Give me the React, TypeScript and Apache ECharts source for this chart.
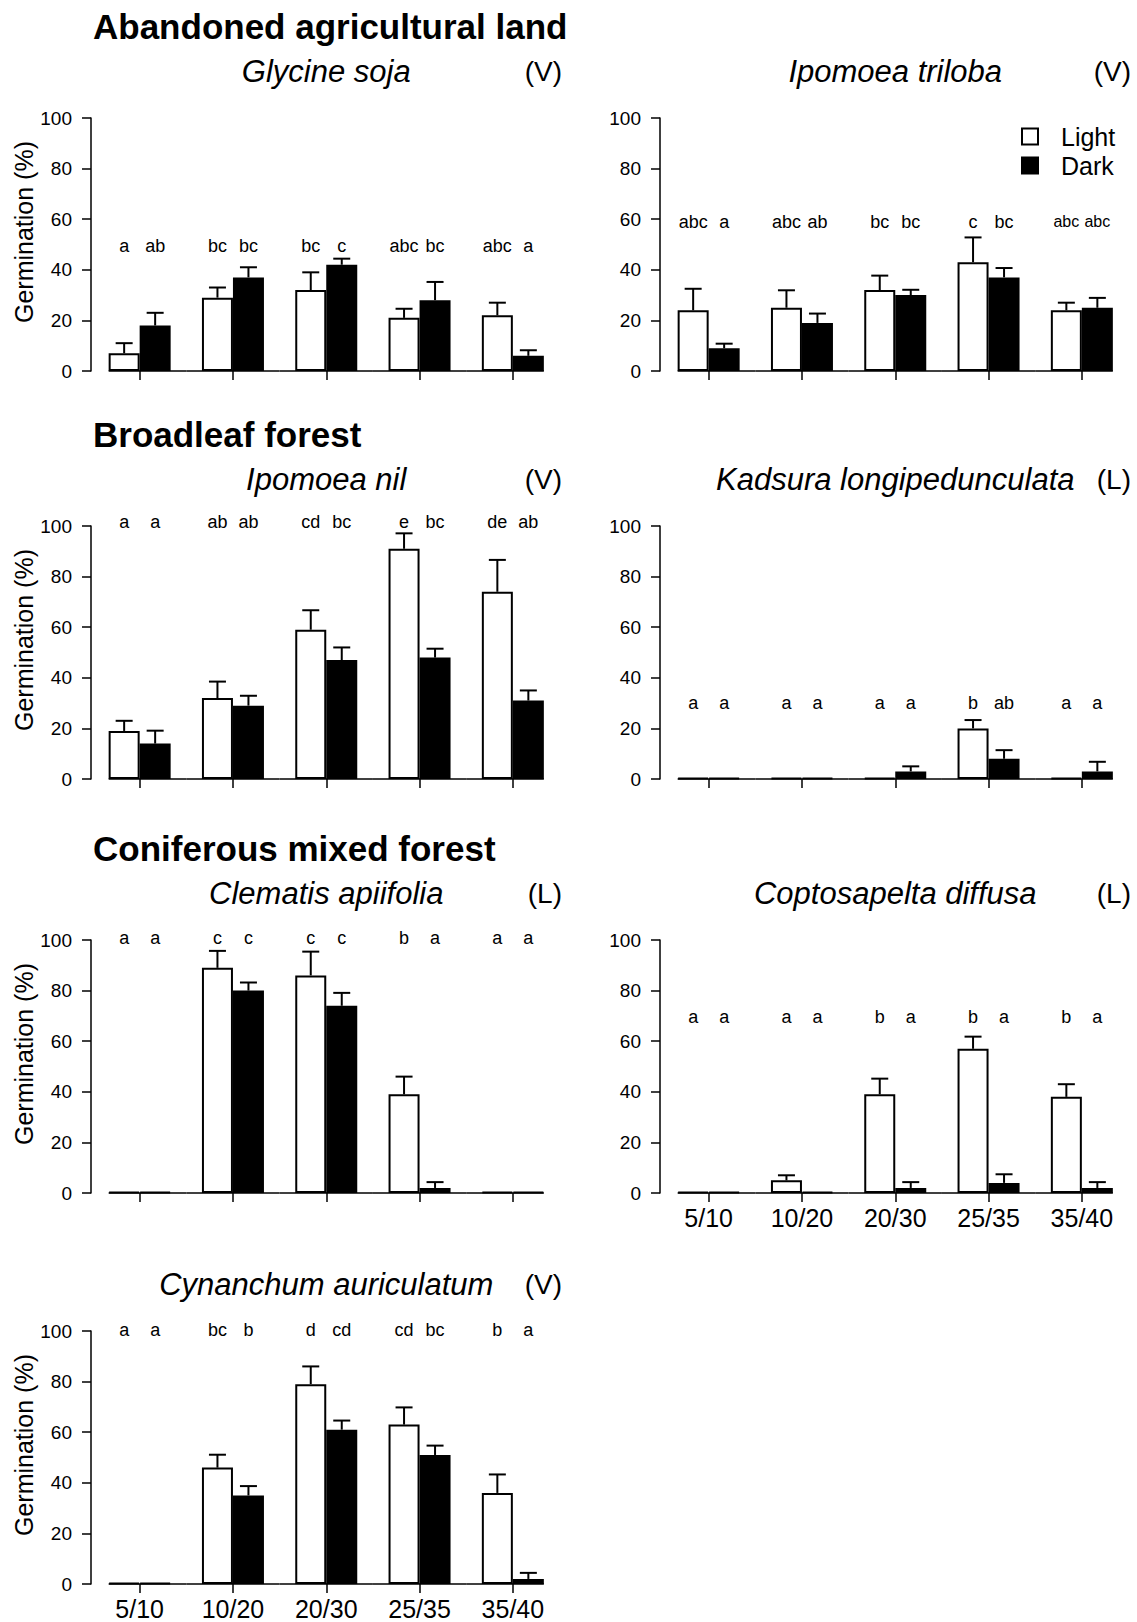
import React, { useEffect, useRef } from "react";
import * as echarts from "echarts";

const categories = ["5/10", "10/20", "20/30", "25/35", "35/40"];

// Glycine soja (V)
const glycineLight = [7, 29, 32, 21, 22];
const glycineLightSE = [4, 4, 7, 3.6, 5];
const glycineDark = [18, 37, 42, 28, 6];
const glycineDarkSE = [5, 4, 2.4, 7.2, 2.2];
const glycineLightLetters = ["a", "bc", "bc", "abc", "abc"];
const glycineDarkLetters = ["ab", "bc", "c", "bc", "a"];

// Ipomoea triloba (V)
const trilobaLight = [24, 25, 32, 43, 24];
const trilobaLightSE = [8.5, 6.9, 5.7, 9.8, 3];
const trilobaDark = [9, 19, 30, 37, 25];
const trilobaDarkSE = [1.8, 3.7, 2.1, 3.7, 3.9];
const trilobaLightLetters = ["abc", "abc", "bc", "c", "abc"];
const trilobaDarkLetters = ["a", "ab", "bc", "bc", "abc"];

// Ipomoea nil (V)
const nilLight = [19, 32, 59, 91, 74];
const nilLightSE = [4, 6.5, 7.7, 6.1, 12.6];
const nilDark = [14, 29, 47, 48, 31];
const nilDarkSE = [5.1, 3.9, 5, 3.5, 4];
const nilLightLetters = ["a", "ab", "cd", "e", "de"];
const nilDarkLetters = ["a", "ab", "bc", "bc", "ab"];

// Kadsura longipedunculata (L)
const kadsuraLight = [0, 0, 0, 20, 0];
const kadsuraLightSE = [0, 0, 0, 3.3, 0];
const kadsuraDark = [0, 0, 3, 8, 3];
const kadsuraDarkSE = [0, 0, 2, 3.4, 3.8];
const kadsuraLightLetters = ["a", "a", "a", "b", "a"];
const kadsuraDarkLetters = ["a", "a", "a", "ab", "a"];

// Clematis apiifolia (L)
const clematisLight = [0, 89, 86, 39, 0];
const clematisLightSE = [0, 6.7, 9.4, 7, 0];
const clematisDark = [0, 80, 74, 2, 0];
const clematisDarkSE = [0, 3.2, 5.1, 2.3, 0];
const clematisLightLetters = ["a", "c", "c", "b", "a"];
const clematisDarkLetters = ["a", "c", "c", "a", "a"];

// Coptosapelta diffusa (L)
const coptoLight = [0, 5, 39, 57, 38];
const coptoLightSE = [0, 2, 6.2, 4.8, 5];
const coptoDark = [0, 0, 2, 4, 2];
const coptoDarkSE = [0, 0, 2.3, 3.4, 2.3];
const coptoLightLetters = ["a", "a", "b", "b", "b"];
const coptoDarkLetters = ["a", "a", "a", "a", "a"];

// Cynanchum auriculatum (V)
const cynanchumLight = [0, 46, 79, 63, 36];
const cynanchumLightSE = [0, 5.1, 7, 6.8, 7.3];
const cynanchumDark = [0, 35, 61, 51, 2];
const cynanchumDarkSE = [0, 3.7, 3.6, 3.7, 2.4];
const cynanchumLightLetters = ["a", "bc", "d", "cd", "b"];
const cynanchumDarkLetters = ["a", "b", "cd", "bc", "a"];

const sectionTitles = ["Abandoned agricultural land", "Broadleaf forest", "Coniferous mixed forest"];
const legendNames = ["Light", "Dark"];
const yAxisTitle = "Germination (%)";

const FONT = "'Liberation Sans', Arial, Helvetica, sans-serif";

// layout
const rowTop = [118, 526, 940, 1331];
const plotH = 253;
const colGridLeft = [93, 662];
const gridW = 466.5;
const barW = 31;

const panels = [
  { name: "Glycine soja", habit: "(V)", row: 0, col: 0, light: glycineLight, lightSE: glycineLightSE, dark: glycineDark, darkSE: glycineDarkSE, lL: glycineLightLetters, dL: glycineDarkLetters, level: 49.5, xLabels: false, ylab: true, letterSizes: [18, 18, 18, 18, 18] },
  { name: "Ipomoea triloba", habit: "(V)", row: 0, col: 1, light: trilobaLight, lightSE: trilobaLightSE, dark: trilobaDark, darkSE: trilobaDarkSE, lL: trilobaLightLetters, dL: trilobaDarkLetters, level: 59, xLabels: false, ylab: false, letterSizes: [18, 18, 18, 18, 16] },
  { name: "Ipomoea nil", habit: "(V)", row: 1, col: 0, light: nilLight, lightSE: nilLightSE, dark: nilDark, darkSE: nilDarkSE, lL: nilLightLetters, dL: nilDarkLetters, level: 101.6, xLabels: false, ylab: true, letterSizes: [18, 18, 18, 18, 18] },
  { name: "Kadsura longipedunculata", habit: "(L)", row: 1, col: 1, light: kadsuraLight, lightSE: kadsuraLightSE, dark: kadsuraDark, darkSE: kadsuraDarkSE, lL: kadsuraLightLetters, dL: kadsuraDarkLetters, level: 30, xLabels: false, ylab: false, letterSizes: [18, 18, 18, 18, 18] },
  { name: "Clematis apiifolia", habit: "(L)", row: 2, col: 0, light: clematisLight, lightSE: clematisLightSE, dark: clematisDark, darkSE: clematisDarkSE, lL: clematisLightLetters, dL: clematisDarkLetters, level: 100.8, xLabels: false, ylab: true, letterSizes: [18, 18, 18, 18, 18] },
  { name: "Coptosapelta diffusa", habit: "(L)", row: 2, col: 1, light: coptoLight, lightSE: coptoLightSE, dark: coptoDark, darkSE: coptoDarkSE, lL: coptoLightLetters, dL: coptoDarkLetters, level: 69.6, xLabels: true, ylab: false, letterSizes: [18, 18, 18, 18, 18] },
  { name: "Cynanchum auriculatum", habit: "(V)", row: 3, col: 0, light: cynanchumLight, lightSE: cynanchumLightSE, dark: cynanchumDark, darkSE: cynanchumDarkSE, lL: cynanchumLightLetters, dL: cynanchumDarkLetters, level: 100.4, xLabels: true, ylab: true, letterSizes: [18, 18, 18, 18, 18] },
];

function buildOption() {
  const grid: any[] = [];
  const xAxis: any[] = [];
  const yAxis: any[] = [];
  const series: any[] = [];
  const graphic: any[] = [];

  panels.forEach((p, k) => {
    const left = colGridLeft[p.col];
    const top = rowTop[p.row];
    grid.push({ left, top, width: gridW, height: plotH, containLabel: false });
    xAxis.push({
      type: "category",
      gridIndex: k,
      data: categories,
      axisLine: { show: false },
      axisTick: { show: true, alignWithLabel: true, length: 9, lineStyle: { color: "#000", width: 1.5 } },
      axisLabel: { show: p.xLabels, color: "#000", fontSize: 25, fontFamily: FONT, margin: 12 },
      splitLine: { show: false },
    });
    yAxis.push({
      type: "value",
      gridIndex: k,
      min: 0,
      max: 100,
      interval: 20,
      offset: 2,
      axisLine: { show: true, lineStyle: { color: "#000", width: 1.5 } },
      axisTick: { show: true, length: 9, lineStyle: { color: "#000", width: 1.5 } },
      axisLabel: { color: "#000", fontSize: 19, fontFamily: FONT, margin: 19 },
      splitLine: { show: false },
    });
    series.push({
      type: "bar",
      name: legendNames[0],
      xAxisIndex: k,
      yAxisIndex: k,
      data: p.light,
      barWidth: barW,
      barGap: "0%",
      barMinHeight: 1,
      itemStyle: { color: "#fff", borderColor: "#000", borderWidth: 2 },
      silent: true,
    });
    series.push({
      type: "bar",
      name: legendNames[1],
      xAxisIndex: k,
      yAxisIndex: k,
      data: p.dark,
      barWidth: barW,
      barGap: "0%",
      barMinHeight: 1,
      itemStyle: { color: "#000", borderColor: "#000", borderWidth: 2 },
      silent: true,
    });
    const n = categories.length;
    series.push({
      type: "custom",
      xAxisIndex: k,
      yAxisIndex: k,
      clip: false,
      silent: true,
      z: 5,
      data: categories.map((_, i) => [i, p.light[i], p.lightSE[i], p.dark[i], p.darkSE[i]]),
      encode: { x: 0, y: 1 },
      renderItem: (params: any, api: any) => {
        const i = api.value(0);
        const base = api.coord([i, 0]);
        const cx = base[0];
        const y0 = base[1];
        const band = api.size([1, 0])[0];
        const children: any[] = [];
        const lx = i === 0 ? cx - barW : cx - band / 2;
        const rx = i === n - 1 ? cx + barW : cx + band / 2;
        children.push({
          type: "line",
          shape: { x1: lx, y1: y0, x2: rx, y2: y0 },
          style: { stroke: "#000", lineWidth: 1.5 },
        });
        const defs = [
          { vi: 1, si: 2, sign: -1, letters: p.lL },
          { vi: 3, si: 4, sign: 1, letters: p.dL },
        ];
        defs.forEach((d) => {
          const v = api.value(d.vi);
          const se = api.value(d.si);
          const bx = cx + (d.sign * barW) / 2;
          if (se > 0) {
            const yTop = api.coord([i, v])[1];
            const yErr = api.coord([i, v + se])[1];
            children.push({
              type: "line",
              shape: { x1: bx, y1: yTop, x2: bx, y2: yErr },
              style: { stroke: "#000", lineWidth: 2 },
            });
            children.push({
              type: "line",
              shape: { x1: bx - 8.5, y1: yErr, x2: bx + 8.5, y2: yErr },
              style: { stroke: "#000", lineWidth: 2 },
            });
          }
          const ly = api.coord([i, p.level])[1];
          children.push({
            type: "text",
            x: bx,
            y: ly,
            style: {
              text: d.letters[i],
              fill: "#000",
              fontSize: p.letterSizes[i],
              fontFamily: FONT,
              align: "center",
              verticalAlign: "middle",
              textAlign: "center",
              textVerticalAlign: "middle",
            },
          });
        });
        return { type: "group", children };
      },
    });

    // titles
    const plotCenter = left + gridW / 2;
    const rightEdge = left + gridW + 2.5;
    graphic.push({
      type: "text",
      x: plotCenter,
      y: top - 47,
      style: {
        text: p.name,
        fill: "#000",
        fontSize: 31,
        fontStyle: "italic",
        fontFamily: FONT,
        align: "center",
        verticalAlign: "middle",
        textAlign: "center",
        textVerticalAlign: "middle",
      },
    });
    graphic.push({
      type: "text",
      x: rightEdge,
      y: top - 47,
      style: {
        text: p.habit,
        fill: "#000",
        fontSize: 28,
        fontFamily: FONT,
        align: "right",
        verticalAlign: "middle",
        textAlign: "right",
        textVerticalAlign: "middle",
      },
    });
    if (p.ylab) {
      graphic.push({
        type: "text",
        x: 24,
        y: top + plotH - 139,
        rotation: Math.PI / 2,
        style: {
          text: yAxisTitle,
          fill: "#000",
          fontSize: 25,
          fontFamily: FONT,
          align: "center",
          verticalAlign: "middle",
          textAlign: "center",
          textVerticalAlign: "middle",
        },
      });
    }
  });

  sectionTitles.forEach((t, r) => {
    graphic.push({
      type: "text",
      x: 93,
      y: rowTop[r] - 92,
      style: {
        text: t,
        fill: "#000",
        fontSize: 35,
        fontWeight: "bold",
        fontFamily: FONT,
        align: "left",
        verticalAlign: "middle",
        textAlign: "left",
        textVerticalAlign: "middle",
      },
    });
  });

  // legend (top-right panel)
  const legendY = [136.5, 165.5];
  legendNames.forEach((nm, j) => {
    graphic.push({
      type: "rect",
      shape: { x: 1022, y: legendY[j] - 8, width: 16, height: 16 },
      style: { fill: j === 0 ? "#fff" : "#000", stroke: "#000", lineWidth: 2 },
    });
    graphic.push({
      type: "text",
      x: 1061,
      y: legendY[j],
      style: {
        text: nm,
        fill: "#000",
        fontSize: 25,
        fontFamily: FONT,
        align: "left",
        verticalAlign: "middle",
        textAlign: "left",
        textVerticalAlign: "middle",
      },
    });
  });

  return {
    animation: false,
    backgroundColor: "#fff",
    grid,
    xAxis,
    yAxis,
    series,
    graphic,
  };
}

export default function App() {
  const ref = useRef<HTMLDivElement>(null);
  useEffect(() => {
    if (!ref.current) return;
    const chart = echarts.init(ref.current, undefined, { renderer: "svg" });
    chart.setOption(buildOption() as any);
    return () => chart.dispose();
  }, []);
  return (
    <div
      ref={ref}
      style={{ position: "absolute", left: 0, top: 0, width: 1137, height: 1622, background: "#fff" }}
    />
  );
}
